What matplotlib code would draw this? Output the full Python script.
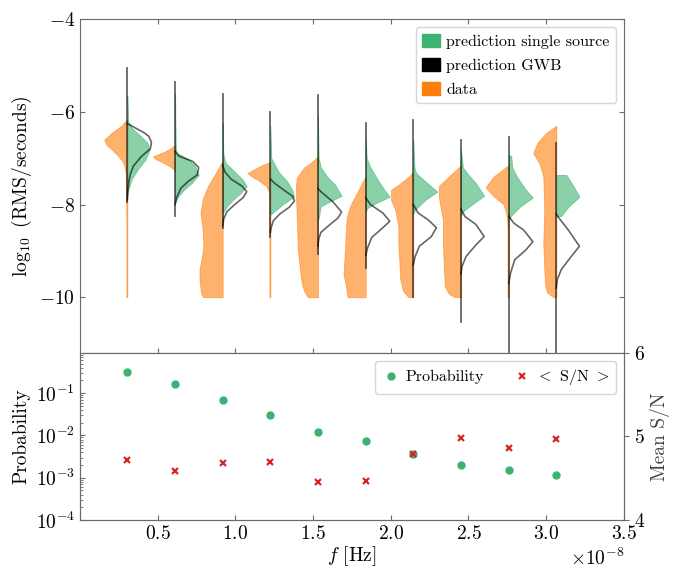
import numpy as np
import matplotlib
matplotlib.use("Agg")
import matplotlib.pyplot as plt
from matplotlib.patches import Patch
from matplotlib.lines import Line2D

plt.rcParams["font.family"] = "serif"
plt.rcParams["font.serif"] = ["cmr10"]
plt.rcParams["mathtext.fontset"] = "cm"
plt.rcParams["axes.formatter.use_mathtext"] = True
plt.rcParams["axes.unicode_minus"] = False
plt.rcParams["axes.edgecolor"] = "#6a6a6a"
plt.rcParams["xtick.color"] = "#6a6a6a"
plt.rcParams["ytick.color"] = "#6a6a6a"
plt.rcParams["xtick.labelcolor"] = "black"
plt.rcParams["ytick.labelcolor"] = "black"

# frequencies in units of 1e-8 Hz
freqs = [0.306, 0.613, 0.919, 1.226, 1.532, 1.839, 2.145, 2.452, 2.759, 3.065]

# violin profiles: (log10 RMS, relative half width)
data_profiles = [
    [(-6.15, 0), (-6.3, 0.25), (-6.45, 0.65), (-6.6, 0.96), (-6.72, 0.85), (-6.82, 0.62),
     (-6.95, 0.38), (-7.05, 0.22), (-7.15, 0.13), (-7.3, 0.07), (-7.6, 0.05), (-8.5, 0.04), (-10, 0.04)],
    [(-6.72, 0), (-6.85, 0.4), (-6.96, 0.92), (-7.02, 0.8), (-7.07, 0.58), (-7.18, 0.2),
     (-7.25, 0.03), (-7.3, 0)],
    [(-7.05, 0), (-7.31, 0.28), (-7.61, 0.62), (-7.89, 0.83), (-8.18, 0.92), (-8.54, 0.83),
     (-8.9, 0.8), (-9.19, 0.88), (-9.4, 0.96), (-9.62, 0.96), (-9.9, 0.9), (-10, 0.82)],
    [(-7.08, 0), (-7.15, 0.35), (-7.32, 0.96), (-7.4, 0.75), (-7.46, 0.54), (-7.6, 0.17),
     (-7.72, 0.06), (-7.9, 0.04), (-10, 0.04)],
    [(-6.96, 0), (-7.1, 0.3), (-7.2, 0.58), (-7.42, 0.88), (-7.64, 0.92), (-8.28, 0.88),
     (-9.0, 0.83), (-9.57, 0.71), (-9.7, 0.67), (-9.86, 0.58), (-10, 0.42)],
    [(-7.4, 0), (-7.46, 0.08), (-7.72, 0.33), (-8.0, 0.62), (-8.28, 0.79), (-8.65, 0.83),
     (-9.15, 0.88), (-9.51, 0.92), (-9.73, 0.83), (-10, 0.75)],
    [(-7.3, 0), (-7.4, 0.2), (-7.54, 0.53), (-7.68, 0.92), (-7.9, 0.92), (-8.11, 0.75),
     (-8.47, 0.62), (-8.83, 0.62), (-9.19, 0.58), (-9.62, 0.54), (-9.87, 0.42), (-10, 0.2)],
    [(-7.15, 0), (-7.25, 0.2), (-7.39, 0.5), (-7.6, 0.92), (-7.82, 0.92), (-8.11, 0.83),
     (-8.33, 0.75), (-8.83, 0.75), (-9.4, 0.71), (-9.77, 0.67), (-9.93, 0.5), (-10, 0.25)],
    [(-7.15, 0), (-7.39, 0.62), (-7.63, 0.96), (-7.82, 0.62), (-8.0, 0.21), (-8.25, 0.08),
     (-8.5, 0.05), (-10, 0.05)],
    [(-6.3, 0), (-6.45, 0.42), (-6.67, 0.79), (-6.89, 0.96), (-7.1, 0.71), (-7.39, 0.54),
     (-8.11, 0.5), (-8.83, 0.54), (-9.4, 0.5), (-9.76, 0.46), (-9.9, 0.38), (-10, 0.12)],
]

single_profiles = [
    [(-5.65, 0), (-6.2, 0.03), (-6.35, 0.2), (-6.49, 0.49), (-6.66, 0.83), (-6.82, 0.92),
     (-7.03, 0.75), (-7.25, 0.42), (-7.46, 0.17), (-7.68, 0.04), (-7.8, 0)],
    [(-5.6, 0), (-6.8, 0.03), (-6.88, 0.08), (-7.03, 0.58), (-7.17, 0.83), (-7.36, 0.98),
     (-7.53, 0.7), (-7.68, 0.37), (-7.83, 0.12), (-7.96, 0)],
    [(-6.24, 0), (-6.9, 0.03), (-7.1, 0.12), (-7.25, 0.42), (-7.46, 0.83), (-7.6, 1.0),
     (-7.75, 0.75), (-7.9, 0.42), (-8.04, 0.17), (-8.19, 0)],
    [(-6.3, 0), (-7.0, 0.04), (-7.3, 0.35), (-7.5, 0.7), (-7.7, 0.92), (-7.83, 0.98),
     (-8.0, 0.5), (-8.22, 0)],
    [(-6.06, 0), (-7.0, 0.03), (-7.2, 0.12), (-7.42, 0.42), (-7.57, 0.71), (-7.81, 0.98),
     (-7.92, 0.55), (-8.04, 0.11), (-8.27, 0.04), (-8.35, 0)],
    [(-6.56, 0), (-7.0, 0.04), (-7.2, 0.2), (-7.5, 0.54), (-7.72, 0.83), (-7.83, 1.0),
     (-7.95, 0.5), (-8.07, 0.08), (-8.15, 0)],
    [(-6.6, 0), (-7.2, 0.05), (-7.32, 0.12), (-7.5, 0.5), (-7.72, 1.0), (-7.9, 0.5),
     (-8.11, 0.08), (-8.2, 0)],
    [(-6.82, 0), (-7.2, 0.08), (-7.32, 0.25), (-7.54, 0.62), (-7.81, 0.96), (-7.98, 0.5),
     (-8.15, 0.08), (-8.25, 0)],
    [(-6.93, 0), (-6.95, 0.1), (-7.2, 0.15), (-7.39, 0.33), (-7.68, 0.71), (-7.85, 1.0),
     (-8.03, 0.5), (-8.25, 0.08), (-8.35, 0)],
    [(-7.36, 0), (-7.36, 0.42), (-7.6, 0.71), (-7.83, 0.96), (-8.05, 0.5), (-8.25, 0.2),
     (-8.25, 0)],
]

gwb_profiles = [
    [(-6.25, 0), (-6.35, 0.35), (-6.45, 0.7), (-6.53, 0.9), (-6.66, 1.0), (-6.8, 0.95),
     (-6.96, 0.58), (-7.17, 0.25), (-7.35, 0.12), (-7.5, 0.06), (-7.7, 0.02), (-7.9, 0)],
    [(-6.85, 0), (-6.95, 0.15), (-7.07, 0.74), (-7.2, 0.98), (-7.36, 0.92), (-7.5, 0.54),
     (-7.64, 0.25), (-7.83, 0.08), (-8.0, 0)],
    [(-7.15, 0), (-7.3, 0.1), (-7.45, 0.35), (-7.6, 0.8), (-7.72, 1.0), (-7.85, 0.85),
     (-8.0, 0.5), (-8.15, 0.18), (-8.3, 0.05), (-8.45, 0)],
    [(-7.45, 0), (-7.55, 0.2), (-7.7, 0.6), (-7.82, 0.92), (-7.92, 1.0), (-8.05, 0.8),
     (-8.2, 0.4), (-8.35, 0.12), (-8.5, 0.03), (-8.6, 0)],
    [(-7.65, 0), (-7.72, 0.12), (-7.94, 0.62), (-8.16, 0.98), (-8.29, 0.83), (-8.43, 0.5),
     (-8.6, 0.12), (-8.75, 0.03), (-8.9, 0)],
    [(-7.85, 0), (-8.0, 0.2), (-8.18, 0.71), (-8.36, 1.0), (-8.5, 0.71), (-8.71, 0.25),
     (-8.93, 0.08), (-9.1, 0)],
    [(-8.0, 0), (-8.18, 0.2), (-8.33, 0.62), (-8.5, 0.96), (-8.69, 0.75), (-8.9, 0.25),
     (-9.12, 0.08), (-9.3, 0)],
    [(-8.1, 0), (-8.26, 0.17), (-8.43, 0.62), (-8.69, 0.96), (-8.87, 0.62), (-9.12, 0.21),
     (-9.34, 0.04), (-9.5, 0)],
    [(-8.25, 0), (-8.4, 0.21), (-8.55, 0.62), (-8.8, 1.0), (-8.98, 0.71), (-9.19, 0.25),
     (-9.47, 0.08), (-9.7, 0)],
    [(-8.2, 0), (-8.27, 0.08), (-8.55, 0.5), (-8.9, 0.96), (-9.12, 0.62), (-9.4, 0.21),
     (-9.62, 0.04), (-9.8, 0)],
]

# full extent of the GWB samples (vertical line)
gwb_top = [-5.05, -5.36, -5.61, -5.99, -5.63, -6.23, -6.17, -6.61, -6.53, -6.66]
gwb_bottom = [-7.95, -8.24, -8.5, -8.69, -9.06, -9.36, -10.0, -10.53, -11.6, -11.6]

probability = [0.322, 0.161, 0.068, 0.030, 0.0122, 0.0072, 0.0036, 0.00204, 0.0015, 0.00116]
mean_snr = [4.717, 4.589, 4.685, 4.693, 4.453, 4.473, 4.794, 4.986, 4.862, 4.970]

GREEN = "mediumseagreen"
ORANGE = "tab:orange"
HALF_WIDTH = 0.155e-8

fig = plt.figure(figsize=(6.76, 5.69), dpi=100)
ax = fig.add_axes([0.118, 0.380, 0.805, 0.586])
axb = fig.add_axes([0.118, 0.086, 0.805, 0.294], sharex=ax)

for i, f in enumerate(freqs):
    x0 = f * 1e-8
    yd, wd = zip(*data_profiles[i])
    ax.fill_betweenx(yd, x0 - np.array(wd) * HALF_WIDTH, x0, color=ORANGE, alpha=0.6,
                     lw=0.6, edgecolor=ORANGE)
    ys, ws = zip(*single_profiles[i])
    ax.fill_betweenx(ys, x0, x0 + np.array(ws) * HALF_WIDTH, color=GREEN, alpha=0.6,
                     lw=0.6, edgecolor=GREEN)
    yg, wg = zip(*gwb_profiles[i])
    ax.plot(x0 + np.array(wg) * HALF_WIDTH, yg, color="k", alpha=0.6, lw=1.2,
            solid_joinstyle="round")
    ax.plot([x0, x0], [gwb_top[i], gwb_bottom[i]], color="k", alpha=0.6, lw=1.3)

ax.set_ylim(-11.2, -4)
ax.set_yticks([-4, -6, -8, -10])
ax.set_ylabel(r"$\log_{10}$ (RMS/seconds)", fontsize=14)
ax.tick_params(direction="in", top=True, right=True, labelsize=14, labelbottom=False)
handles = [Patch(color=GREEN, label="prediction single source"),
           Patch(color="k", label="prediction GWB"),
           Patch(color=ORANGE, label="data")]
ax.legend(handles=handles, loc="upper right", fontsize=11.5, handlelength=1.1,
          handleheight=0.9, handletextpad=0.4, labelspacing=0.55, borderaxespad=0.5)

xs = [f * 1e-8 for f in freqs]
axb.plot(xs, probability, "o", color=GREEN, ms=5)
axb.set_yscale("log")
axb.set_ylim(1e-4, 0.9)
axb.set_yticks([1e-4, 1e-3, 1e-2, 1e-1])
axb.set_ylabel("Probability", fontsize=14)
axb.set_xlim(0, 3.5e-8)
axb.set_xticks([0.5e-8, 1e-8, 1.5e-8, 2e-8, 2.5e-8, 3e-8, 3.5e-8])
axb.set_xlabel(r"$f$ [Hz]", fontsize=14, labelpad=1)
axb.tick_params(direction="in", which="both", labelsize=14)
axb.xaxis.get_offset_text().set_fontsize(14)

ax2 = axb.twinx()
ax2.plot(xs, mean_snr, "x", color="tab:red", ms=5, mew=1.6)
ax2.set_ylim(4, 6)
ax2.set_yticks([4, 5, 6])
ax2.set_ylabel("Mean S/N", fontsize=14, color="#404040")
ax2.tick_params(labelsize=14)

leg_handles = [Line2D([], [], ls="", marker="o", color=GREEN, ms=5, label="Probability"),
               Line2D([], [], ls="", marker="x", color="tab:red", ms=5, mew=1.6,
                      label=r"$<$ S/N $>$")]
ax2.legend(handles=leg_handles, loc="upper right", ncol=2, fontsize=11.5,
           handlelength=1.2, handletextpad=0.3, columnspacing=1.8)

fig.savefig("out.png", dpi=100)
